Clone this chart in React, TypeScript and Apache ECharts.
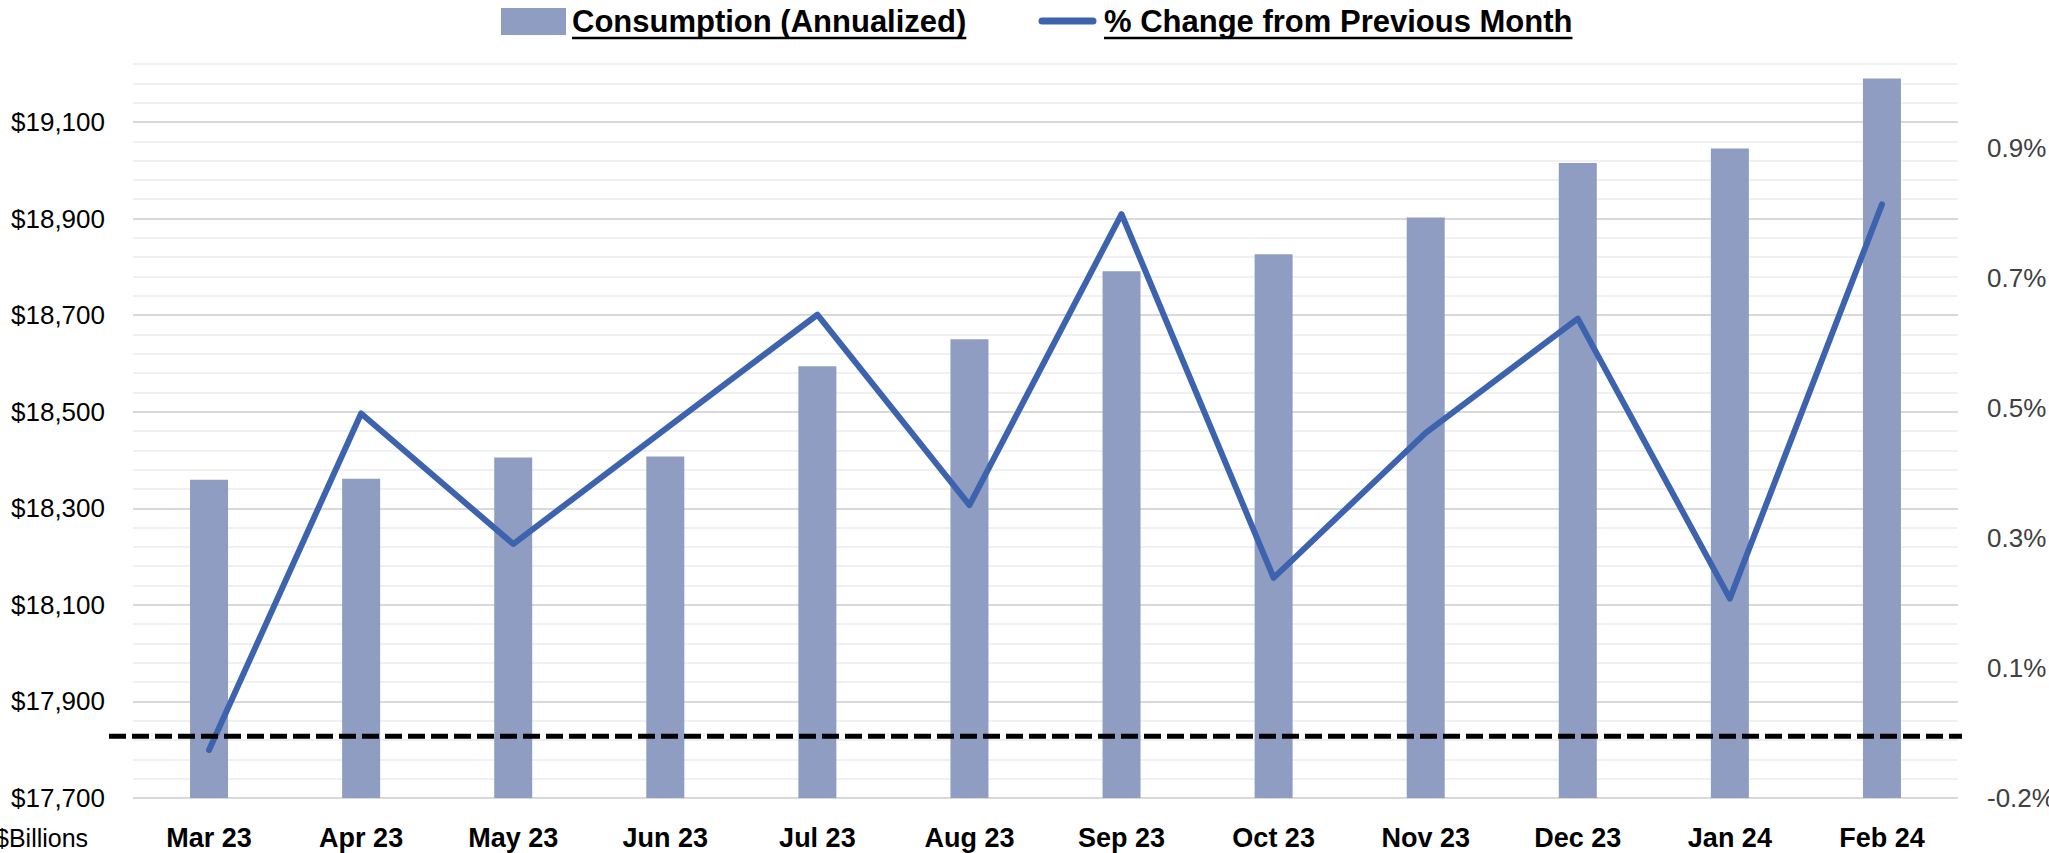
import React, { useEffect, useRef } from "react";
import * as echarts from "echarts";

// ---- data ----
const CATEGORIES = ["Mar 23", "Apr 23", "May 23", "Jun 23", "Jul 23", "Aug 23", "Sep 23", "Oct 23", "Nov 23", "Dec 23", "Jan 24", "Feb 24"];
const CONSUMPTION = [18359, 18361, 18405, 18407, 18594, 18650, 18791, 18826, 18902, 19015, 19045, 19190];
const PCT_CHANGE = [-0.076, 0.442, 0.241, 0.418, 0.594, 0.301, 0.749, 0.189, 0.412, 0.588, 0.157, 0.764];
const LEGEND_NAMES = ["Consumption (Annualized)", "% Change from Previous Month"];
const UNIT_LABEL = "$Billions";

// axis scales
const LEFT_MIN = 17700;
const LEFT_MAX = 19220;
const LEFT_MAJOR = 200;
const LEFT_MINOR = 40;
const LEFT_STEP = 20;
const RIGHT_MIN = -0.15;
const RIGHT_MAX = 0.98;
const RIGHT_MAJOR = 0.2;
const RIGHT_STEP = 0.05;
const DASHED_LINE_PCT = -0.055;

const BAR_COLOR = "#8F9DC3";
const LINE_COLOR = "#3D63AE";
const FONT = "'Liberation Sans', Arial, sans-serif";

function fmtPct(v: number): string {
  const r = Math.round(Math.abs(v) * 10 + 1e-9) / 10;
  return (v < 0 ? "-" : "") + r.toFixed(1) + "%";
}

function measure(text: string, font: string): number {
  const c = document.createElement("canvas").getContext("2d");
  if (!c) return text.length * 15;
  c.font = font;
  return c.measureText(text).width;
}

export default function App() {
  const ref = useRef<HTMLDivElement | null>(null);

  useEffect(() => {
    if (!ref.current) return;
    const chart = echarts.init(ref.current, null, { renderer: "svg" });

    const perMajor = LEFT_MAJOR / LEFT_STEP;
    const perMinor = LEFT_MINOR / LEFT_STEP;
    const gridColors: string[] = [];
    for (let i = 0; i < perMajor; i++) {
      if (i === 0) gridColors.push("#D9D9D9");
      else if (i % perMinor === 0) gridColors.push("#F0F0F0");
      else gridColors.push("rgba(0,0,0,0)");
    }
    const rightPer = Math.round(RIGHT_MAJOR / RIGHT_STEP);

    chart.setOption({
      animation: false,
      backgroundColor: "#ffffff",
      legend: { show: false },
      grid: { left: 133, top: 64, width: 1825, height: 734, containLabel: false, outerBoundsMode: "none" },
      xAxis: {
        type: "category",
        data: CATEGORIES,
        boundaryGap: true,
        axisLine: { show: false },
        axisTick: { show: false },
        axisLabel: { color: "#000000", fontFamily: FONT, fontWeight: "bold", fontSize: 27, margin: 26 },
      },
      yAxis: [
        {
          type: "value",
          position: "left",
          min: LEFT_MIN,
          max: LEFT_MAX,
          interval: LEFT_STEP,
          startValue: LEFT_MIN,
          axisLine: { show: false },
          axisTick: { show: false },
          axisLabel: {
            color: "#000000",
            fontFamily: FONT,
            fontSize: 26,
            margin: 28,
            formatter: (v: number) => {
              const k = Math.round((v - LEFT_MIN) / LEFT_STEP);
              if (k % perMajor !== 0) return "";
              return "$" + Math.round(v).toLocaleString("en-US");
            },
          },
          splitLine: { show: true, lineStyle: { color: gridColors, width: 2 } },
        },
        {
          type: "value",
          position: "right",
          min: RIGHT_MIN,
          max: RIGHT_MAX,
          interval: RIGHT_STEP,
          axisLine: { show: false },
          axisTick: { show: false },
          splitLine: { show: false },
          axisLabel: {
            color: "#404040",
            fontFamily: FONT,
            fontSize: 26,
            margin: 29,
            formatter: (v: number) => {
              const k = Math.round((v - RIGHT_MIN) / RIGHT_STEP);
              if (k % rightPer !== 0 || v > RIGHT_MAX - RIGHT_STEP) return "";
              return fmtPct(v);
            },
          },
        },
      ],
      series: [
        {
          name: LEGEND_NAMES[0],
          type: "bar",
          yAxisIndex: 0,
          data: CONSUMPTION,
          barWidth: 38,
          itemStyle: { color: BAR_COLOR },
          z: 2,
        },
        {
          name: LEGEND_NAMES[1],
          type: "line",
          yAxisIndex: 1,
          data: PCT_CHANGE,
          symbol: "none",
          lineStyle: { color: LINE_COLOR, width: 6, cap: "round", join: "round" },
          z: 3,
        },
      ],
    });

    const yDash = chart.convertToPixel({ yAxisIndex: 1 }, DASHED_LINE_PCT) as number;
    const legendFont = `bold 31px ${FONT}`;
    const w1 = measure(LEGEND_NAMES[0], legendFont);
    const w2 = measure(LEGEND_NAMES[1], legendFont);
    const t1x = 572;
    const t2x = 1104;
    const ly = 21;

    chart.setOption({
      graphic: [
        { type: "rect", id: "lg1", shape: { x: 501, y: 8, width: 65, height: 27 }, style: { fill: BAR_COLOR }, z: 20 },
        {
          type: "text", id: "lt1", x: t1x, y: ly,
          style: { text: LEGEND_NAMES[0], font: legendFont, fill: "#000000", verticalAlign: "middle", align: "left" }, z: 20,
        },
        { type: "line", id: "lu1", shape: { x1: t1x, y1: 38, x2: t1x + w1, y2: 38 }, style: { stroke: "#000000", lineWidth: 2.5 }, z: 20 },
        {
          type: "line", id: "lg2", shape: { x1: 1042, y1: ly, x2: 1093, y2: ly },
          style: { stroke: LINE_COLOR, lineWidth: 7, lineCap: "round" }, z: 20,
        },
        {
          type: "text", id: "lt2", x: t2x, y: ly,
          style: { text: LEGEND_NAMES[1], font: legendFont, fill: "#000000", verticalAlign: "middle", align: "left" }, z: 20,
        },
        { type: "line", id: "lu2", shape: { x1: t2x, y1: 38, x2: t2x + w2, y2: 38 }, style: { stroke: "#000000", lineWidth: 2.5 }, z: 20 },
        {
          type: "text", id: "unit", x: -5, y: 838,
          style: { text: UNIT_LABEL, font: `25px ${FONT}`, fill: "#000000", verticalAlign: "middle", align: "left" }, z: 20,
        },
        {
          type: "line", id: "dash", shape: { x1: 109, y1: yDash, x2: 1962, y2: yDash },
          style: { stroke: "#000000", lineWidth: 5, lineDash: [17, 6] }, z: 30,
        },
      ],
    });

    return () => chart.dispose();
  }, []);

  return (
    <div
      ref={ref}
      style={{ position: "fixed", left: 0, top: 0, width: 2049, height: 853, background: "#ffffff" }}
    />
  );
}
